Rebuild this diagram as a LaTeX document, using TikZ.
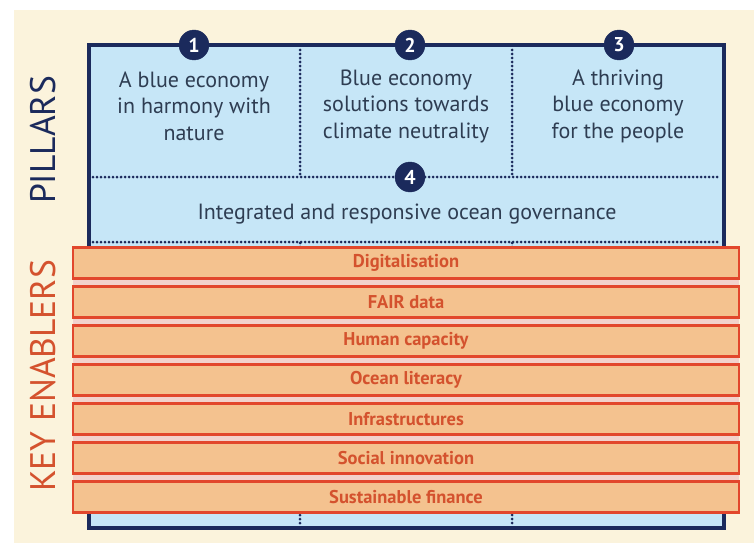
\documentclass[tikz,border=0pt]{standalone}
\usepackage{fontspec}
\setmainfont{PT Sans}
\definecolor{navy}{HTML}{1B2A5C}
\definecolor{lblue}{HTML}{C6E6F7}
\definecolor{cream}{HTML}{FBF3DC}
\definecolor{barfill}{HTML}{F4C28F}
\definecolor{barred}{HTML}{E2472C}
\definecolor{gappink}{HTML}{F2D2CC}
\definecolor{txtorange}{HTML}{D4522E}
\definecolor{txtdark}{HTML}{2E3D52}
\tikzset{
  numcirc/.style={circle, fill=navy, draw=navy, minimum size=30pt, inner sep=0pt, text=white, font=\bfseries\fontsize{20}{20}\selectfont},
  pillartext/.style={align=center, text=txtdark, font=\fontsize{22}{26.5}\selectfont},
  dotline/.style={navy, line width=3pt, dash pattern=on 0pt off 4pt, line cap=round},
  enabler/.style={draw=barred, fill=barfill, line width=2.8pt, minimum width=666pt, minimum height=31pt, inner sep=0pt, text=txtorange, font=\bfseries\fontsize{18.5}{18.5}\selectfont},
  sidelabel/.style={rotate=90, font=\fontsize{35.5}{35.5}\selectfont}
}
\begin{document}
\begin{tikzpicture}[x=1pt,y=-1pt]
\useasboundingbox (0,0) rectangle (754,543);
\fill[white] (0,0) rectangle (754,543);
\fill[cream] (14,10) rectangle (754,543);
% main box
\fill[lblue] (89,45) rectangle (724,528);
% dotted dividers
\draw[dotline] (300,50) -- (300,177);
\draw[dotline] (512,50) -- (512,177);
\draw[dotline] (300,243) -- (300,524);
\draw[dotline] (512,243) -- (512,524);
\draw[dotline] (93,177) -- (720,177);
\draw[dotline] (93,242) -- (720,242);
\draw[navy, line width=3.5pt] (89,45) rectangle (724,528);
% number circles
\node[numcirc] (c1) at (194,45) {1};
\node[numcirc] (c2) at (410,45) {2};
\node[numcirc] (c3) at (619,45) {3};
\node[numcirc] (c4) at (410,177) {4};
% pillar texts
\node[pillartext] (p1) at (194,106) {A blue economy\\in harmony with\\nature};
\node[pillartext] (p2) at (406,106) {Blue economy\\solutions towards\\climate neutrality};
\node[pillartext] (p3) at (618,106) {A thriving\\blue economy\\for the people};
\node[pillartext] (p4) at (407,214) {Integrated and responsive ocean governance};
% enablers
\fill[gappink] (73,247) rectangle (739,513);
\foreach \t [count=\i from 0] in {Digitalisation,FAIR data,Human capacity,Ocean literacy,Infrastructures,Social innovation,Sustainable finance}{
  \node[enabler] (e\i) at (406,{263+39*\i}) {\t};
}
% side labels
\node[sidelabel, text=navy] (pillars) at (43,140) {PILLARS};
\node[sidelabel, text=txtorange] (keyen) at (43,376) {KEY ENABLERS};
\end{tikzpicture}
\end{document}
